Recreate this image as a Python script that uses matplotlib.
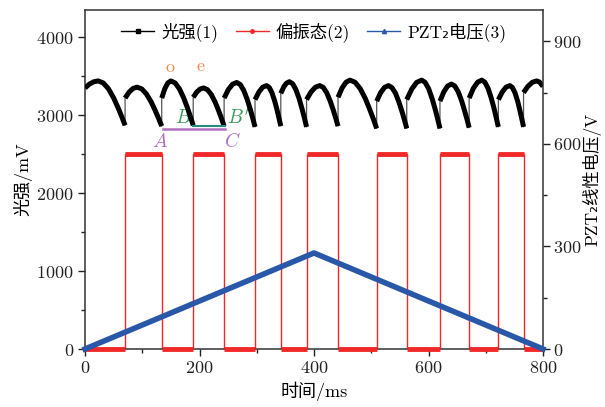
import matplotlib
matplotlib.use("Agg")
import matplotlib.pyplot as plt
from matplotlib.lines import Line2D
import numpy as np

plt.rcParams['font.family'] = ['cmr10', 'Noto Sans CJK SC', 'DejaVu Sans']
plt.rcParams['mathtext.fontset'] = 'cm'
plt.rcParams['axes.formatter.use_mathtext'] = True
plt.rcParams['axes.unicode_minus'] = False

# ---- data: light intensity arches (time ms, value mV) ----
arch_t = [
    [0, 7.7, 15.3, 23, 31.9, 40.9, 49.8, 57.3, 64.4, 70],
    [70, 77, 84, 91, 99.2, 107.3, 115.5, 122.4, 128.8, 134],
    [134, 139.3, 144.7, 150, 157.4, 164.8, 172.2, 178.5, 184.3, 189],
    [189, 195, 201, 207, 213.8, 220.7, 227.5, 233.3, 238.7, 243],
    [243, 250.3, 257.7, 265, 271.1, 277.2, 283.2, 288.4, 293.2, 297],
    [297, 303.7, 310.3, 317, 321.8, 326.5, 331.3, 335.3, 339, 342],
    [342, 347, 352, 357, 362.7, 368.4, 374.1, 378.9, 383.4, 387],
    [387, 394.7, 402.3, 410, 416.1, 422.2, 428.2, 433.4, 438.2, 442],
    [442, 449, 456, 463, 471.8, 480.7, 489.5, 496.9, 503.9, 509.5],
    [509.5, 516.3, 523.2, 530, 536.1, 542.2, 548.2, 553.4, 558.2, 562],
    [562, 570.7, 579.3, 588, 594.1, 600.2, 606.2, 611.4, 616.2, 620],
    [620, 626.7, 633.3, 640, 645.9, 651.8, 657.7, 662.6, 667.3, 671],
    [671, 678.3, 685.7, 693, 698.5, 704, 709.5, 714.2, 718.5, 722],
    [722, 728.7, 735.3, 742, 746.6, 751.1, 755.7, 759.5, 763.1, 766],
    [766, 773.7, 781.3, 789, 794, 800],
]
arch_v = [
    [3350, 3399, 3429, 3440, 3414, 3340, 3225, 3103, 2978, 2870],
    [3220, 3296, 3344, 3360, 3337, 3272, 3171, 3064, 2954, 2860],
    [3220, 3339, 3414, 3440, 3414, 3340, 3225, 3103, 2978, 2870],
    [3230, 3295, 3336, 3350, 3328, 3264, 3165, 3060, 2953, 2860],
    [3220, 3328, 3397, 3420, 3394, 3320, 3205, 3083, 2958, 2850],
    [3200, 3297, 3359, 3380, 3357, 3289, 3183, 3072, 2958, 2860],
    [3280, 3361, 3412, 3430, 3404, 3328, 3211, 3087, 2960, 2850],
    [3200, 3297, 3359, 3380, 3357, 3289, 3183, 3072, 2958, 2860],
    [3230, 3349, 3424, 3450, 3422, 3341, 3216, 3083, 2947, 2830],
    [3180, 3288, 3357, 3380, 3355, 3284, 3172, 3054, 2934, 2830],
    [3200, 3335, 3421, 3450, 3422, 3341, 3216, 3083, 2947, 2830],
    [3180, 3299, 3374, 3400, 3375, 3302, 3188, 3068, 2946, 2840],
    [3220, 3344, 3423, 3450, 3423, 3345, 3223, 3095, 2963, 2850],
    [3200, 3297, 3359, 3380, 3356, 3287, 3180, 3066, 2950, 2850],
    [3290, 3371, 3422, 3440, 3425, 3370],
]

# ---- polarization state (square wave, mV) ----
pol_edges = [0, 70, 134, 189, 243, 297, 342, 387, 442, 509.5, 562, 620, 671, 722, 766, 800]
pol_levels = [0, 2500, 0, 2500, 0, 2500, 0, 2500, 0, 2500, 0, 2500, 0, 2500, 0]

# ---- PZT voltage (right axis, V) ----
pzt_t = [0, 400, 800]
pzt_v = [0, 281, 0]

x_ticks = [0, 200, 400, 600, 800]
yl_ticks = [0, 1000, 2000, 3000, 4000]
yr_ticks = [0, 300, 600, 900]

BLACK = '#000000'
RED = '#f02828'
BLUE = '#2a58a8'

fig = plt.figure(figsize=(6.05, 4.07), dpi=100)
ax = fig.add_axes([85/605, 1-349/407, (543-85)/605, (349-10)/407])
ax2 = ax.twinx()

ax.set_xlim(0, 800)
ax.set_ylim(0, 4350)
ax2.set_ylim(0, 992)

# red square wave: thin verticals + thick levels
step_x, step_y = [], []
for i, lv in enumerate(pol_levels):
    step_x += [pol_edges[i], pol_edges[i+1]]
    step_y += [lv, lv]
ax.plot(step_x, step_y, color=RED, lw=1.0, zorder=2)
for i, lv in enumerate(pol_levels):
    ax.plot([pol_edges[i], pol_edges[i+1]], [lv, lv], color=RED, lw=3.5,
            solid_capstyle='butt', zorder=3, clip_on=False)

# light intensity: thin connectors + thick arches
all_t = [t for a in arch_t for t in a]
all_v = [v for a in arch_v for v in a]
ax.plot(all_t, all_v, color='#555555', lw=0.9, zorder=4)
for t, v in zip(arch_t, arch_v):
    ax.plot(t, v, color=BLACK, lw=3.6, solid_joinstyle='round',
            solid_capstyle='butt', zorder=5)

# PZT voltage (right axis, drawn above the red wave)
ax2.plot(pzt_t, pzt_v, color=BLUE, lw=4.0, zorder=3, clip_on=False)
for s in ('left', 'top', 'bottom'):
    ax2.spines[s].set_visible(False)
ax.spines['right'].set_visible(False)

# annotations
ax.plot([136, 244.5], [2820, 2820], color='#b070c0', lw=1.8, zorder=6)
ax.plot([189, 244], [2865, 2865], color='#2a8a80', lw=1.5, zorder=6)
ax.text(148, 3610, 'o', color='#f08848', fontsize=13, ha='center', va='center')
ax.text(201, 3630, 'e', color='#f08848', fontsize=13, ha='center', va='center')
ax.text(131, 2660, r'$A$', color='#b070c0', fontsize=14, ha='center', va='center')
ax.text(257, 2660, r'$C$', color='#b070c0', fontsize=14, ha='center', va='center')
ax.text(171, 2960, r'$B$', color='#3a9a5a', fontsize=14, ha='center', va='center')
ax.text(268, 2960, r"$B'$", color='#3a9a5a', fontsize=14, ha='center', va='center')

# ticks
ax.set_xticks(x_ticks)
ax.set_xticks(np.arange(100, 800, 200), minor=True)
ax.set_yticks(yl_ticks)
ax.set_yticks(np.arange(500, 4350, 1000), minor=True)
ax2.set_yticks(yr_ticks)
ax2.set_yticks(np.arange(150, 992, 300), minor=True)
for a in (ax, ax2):
    a.tick_params(which='major', direction='out', length=5, width=1.0, labelsize=13, colors='#222222')
    a.tick_params(which='minor', direction='out', length=3, width=1.0, colors='#222222')
    for s in a.spines.values():
        s.set_linewidth(1.1)
        s.set_color('#333333')
ax.tick_params(axis='x', which='major', pad=3)
ax.tick_params(axis='y', which='major', pad=3)
ax2.tick_params(axis='y', which='major', pad=2)

ax.set_xlabel('时间/ms', fontsize=13, labelpad=4)
ax.set_ylabel('光强/mV', fontsize=13, labelpad=3)
fig.text(592/605, 1-179/407, 'PZT₂线性电压/V', fontsize=12.5, rotation=90,
         ha='center', va='center')

handles = [
    Line2D([], [], color=BLACK, lw=1.0, marker='s', markersize=2.5),
    Line2D([], [], color=RED, lw=1.0, marker='o', markersize=2.5),
    Line2D([], [], color=BLUE, lw=1.0, marker='^', markersize=3),
]
labels = ['光强(1)', '偏振态(2)', 'PZT₂电压(3)']
ax.legend(handles, labels, loc='upper center', bbox_to_anchor=(0.5, 1.0), ncol=3,
          frameon=False, fontsize=12.5, handlelength=1.9, handletextpad=0.4,
          columnspacing=1.0, borderaxespad=0.3)

fig.savefig('out.png', dpi=100)
